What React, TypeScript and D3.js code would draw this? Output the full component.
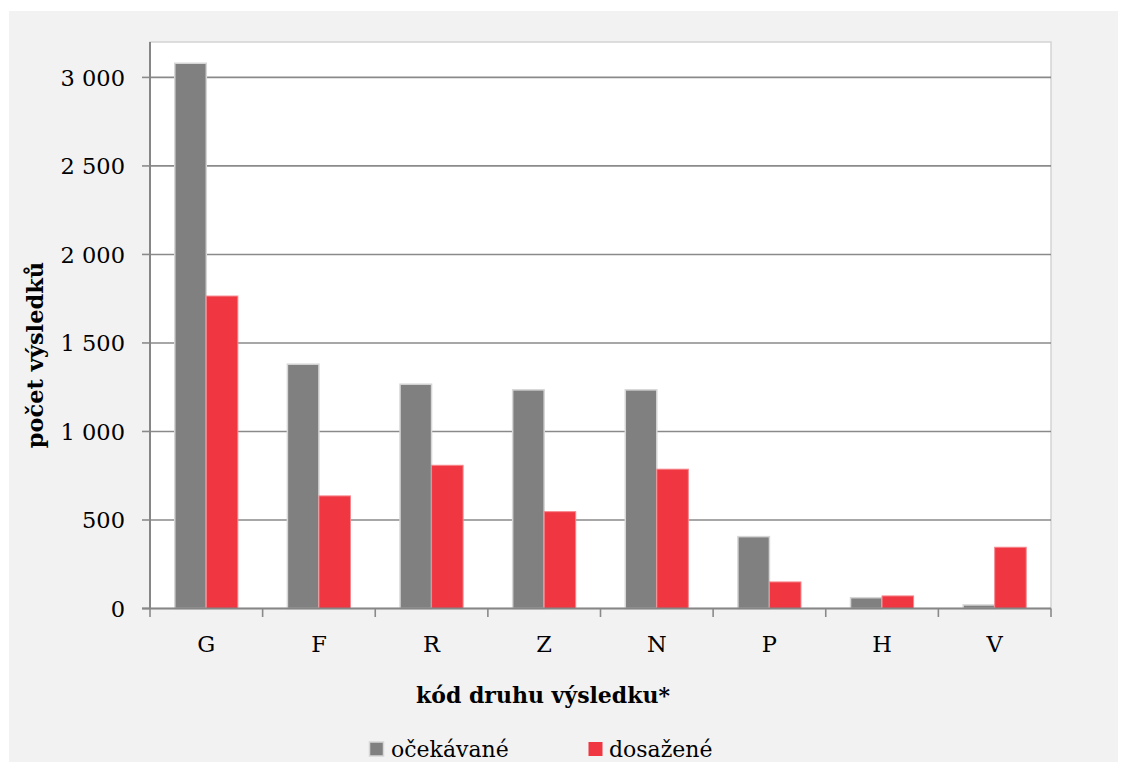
import React from "react";
import * as d3 from "d3";

const categories = ["G", "F", "R", "Z", "N", "P", "H", "V"];
const expected = [3080, 1380, 1267, 1235, 1235, 406, 61, 20];
const achieved = [1765, 636, 809, 547, 787, 150, 71, 346];
const yTicks = [0, 500, 1000, 1500, 2000, 2500, 3000];
const seriesNames = ["očekávané", "dosažené"];

const W = 1128;
const H = 772;
const FONT = "'DejaVu Serif', serif";
const plot = { left: 150, right: 1051, top: 42, bottom: 608.5 };
const colors = { gray: "#808080", red: "#f03641" };

const fmt = (v: number) => {
  const s = String(v);
  return s.length > 3 ? s.slice(0, s.length - 3) + " " + s.slice(-3) : s;
};

export default function App() {
  const x = d3
    .scaleBand<string>()
    .domain(categories)
    .range([plot.left, plot.right])
    .paddingInner(0.44)
    .paddingOuter(0.22);
  const xOuter = d3.scaleBand<string>().domain(categories).range([plot.left, plot.right]);
  const y = d3.scaleLinear().domain([0, 3200]).range([plot.bottom, plot.top]);
  const bw = x.bandwidth() / 2;

  return (
    <svg width={W} height={H} style={{ position: "absolute", left: 0, top: 0 }} fontFamily={FONT}>
      <rect x={0} y={0} width={W} height={H} fill="#ffffff" />
      <rect x={9} y={11} width={1109} height={751} fill="#f2f2f2" />
      <rect
        x={plot.left}
        y={plot.top}
        width={plot.right - plot.left}
        height={plot.bottom - plot.top}
        fill="#ffffff"
        stroke="#d4d4d4"
        strokeWidth={1.5}
      />
      {yTicks.map((t) => (
        <g key={t}>
          {t > 0 && (
            <line x1={plot.left} x2={plot.right} y1={y(t)} y2={y(t)} stroke="#8a8a8a" strokeWidth={1.6} />
          )}
          <line x1={142} x2={plot.left} y1={y(t)} y2={y(t)} stroke="#8a8a8a" strokeWidth={1.6} />
          <text x={125} y={y(t) + 8.5} textAnchor="end" fontSize={22.5} fill="#000">
            {fmt(t)}
          </text>
        </g>
      ))}
      {categories.map((c, i) => (
        <g key={c}>
          <rect
            x={x(c)!}
            y={y(expected[i])}
            width={bw}
            height={y(0) - y(expected[i])}
            fill={colors.gray}
            stroke="#d6d6d6"
            strokeWidth={1.5}
          />
          <rect
            x={x(c)! + bw}
            y={y(achieved[i])}
            width={bw}
            height={y(0) - y(achieved[i])}
            fill={colors.red}
            stroke="#f6878d"
            strokeWidth={1}
          />
          <text
            x={xOuter(c)! + xOuter.bandwidth() / 2}
            y={652}
            textAnchor="middle"
            fontSize={22.5}
            fill="#000"
          >
            {c}
          </text>
        </g>
      ))}
      {categories.concat([""]).map((c, i) => {
        const xx = plot.left + i * xOuter.step();
        return <line key={"t" + i} x1={xx} x2={xx} y1={plot.bottom} y2={617} stroke="#8a8a8a" strokeWidth={1.6} />;
      })}
      <line x1={plot.left} x2={plot.left} y1={plot.top} y2={plot.bottom} stroke="#868686" strokeWidth={2} />
      <line x1={plot.left - 8} x2={plot.right} y1={plot.bottom} y2={plot.bottom} stroke="#868686" strokeWidth={2} />
      <text
        transform={`translate(43,355) rotate(-90)`}
        textAnchor="middle"
        fontSize={22.5}
        fontWeight="bold"
        fill="#000"
      >
        počet výsledků
      </text>
      <text x={543} y={703} textAnchor="middle" fontSize={22} fontWeight="bold" fill="#000">
        kód druhu výsledku*
      </text>
      <rect x={369.5} y={742} width={14} height={14} fill={colors.gray} stroke="#d6d6d6" strokeWidth={1.5} />
      <text x={391} y={757} fontSize={22} fill="#000">
        {seriesNames[0]}
      </text>
      <rect x={588.5} y={742} width={14} height={14} fill={colors.red} />
      <text x={609} y={757} fontSize={22} fill="#000">
        {seriesNames[1]}
      </text>
    </svg>
  );
}
